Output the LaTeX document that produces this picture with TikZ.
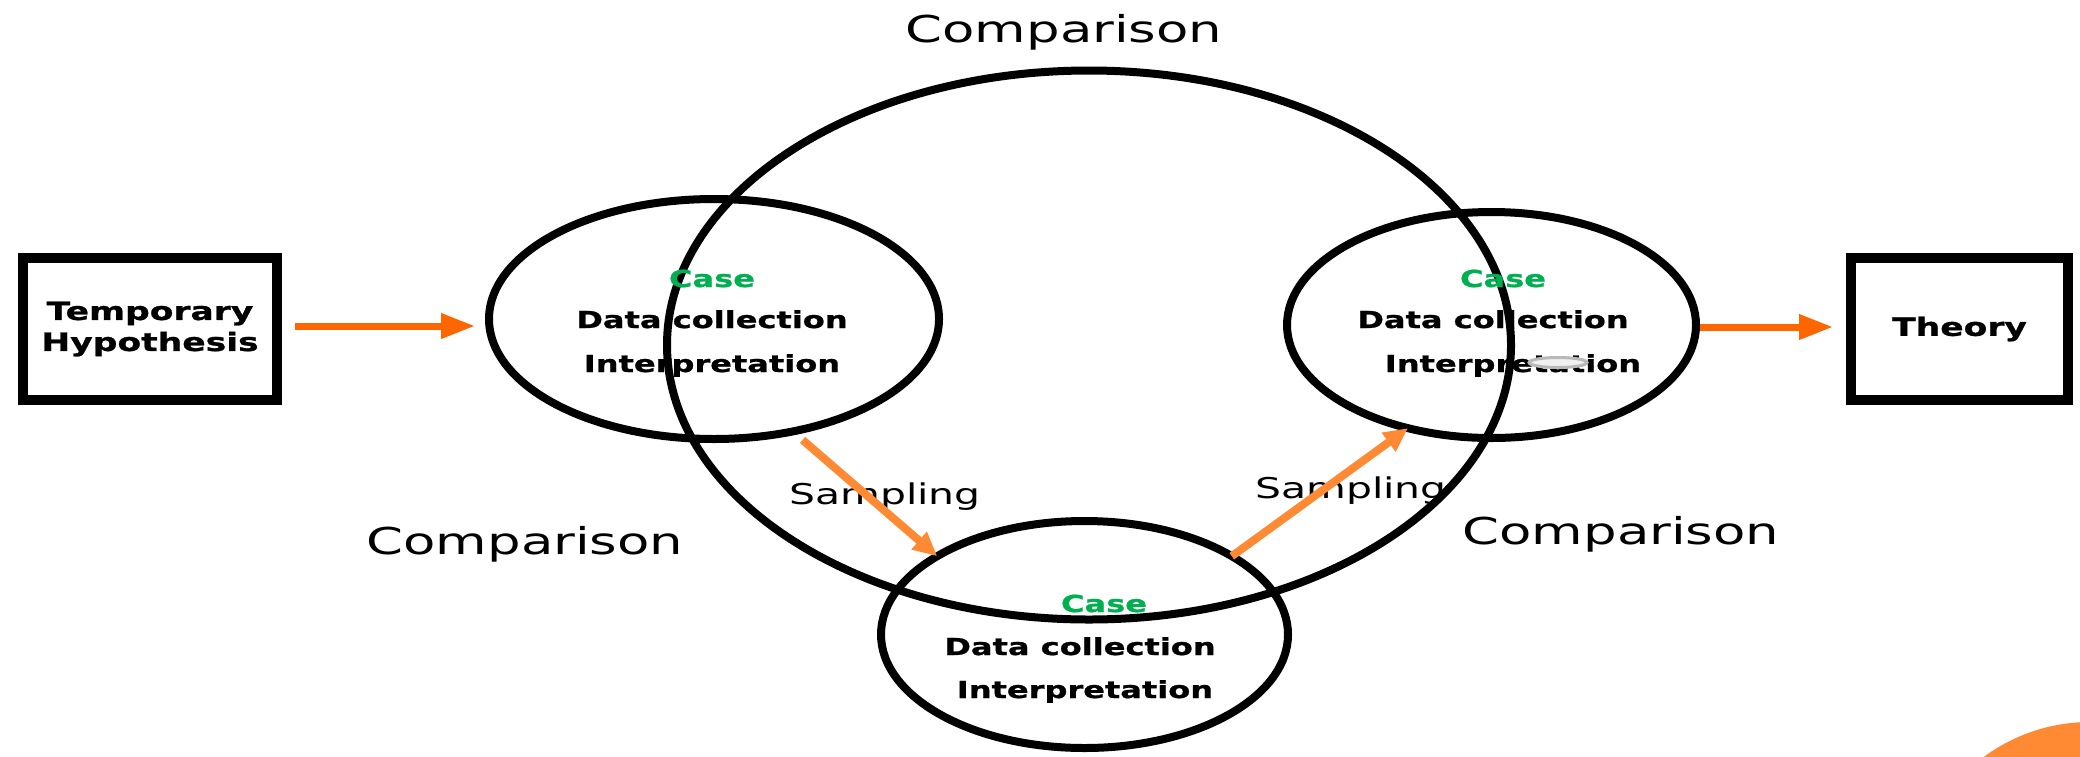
\documentclass[tikz,border=0pt]{standalone}
\usepackage{fontspec}
\setmainfont{DejaVu Sans}
\newfontfamily\regfont{DejaVu Sans}[FakeStretch=1.43]
\newfontfamily\bfont{DejaVu Sans}[FakeStretch=1.37,FakeBold=1]
\usetikzlibrary{shapes.geometric,arrows.meta}
\definecolor{arr}{HTML}{FF6600}
\definecolor{samp}{HTML}{FF8A33}
\definecolor{casegreen}{HTML}{00B050}
\tikzset{
 ring/.style={draw=black, line width=4pt, ellipse, inner sep=0pt, outer sep=0pt},
 boxnode/.style={draw=black, line width=5pt, inner sep=0pt, outer sep=0pt, align=center,
   font=\bfont\bfseries\fontsize{12.6}{15.5}\selectfont},
 lbl/.style={anchor=base, inner sep=0pt, font=\bfont\bfseries\fontsize{11.7}{14}\selectfont},
 casel/.style={lbl, text=casegreen},
 cmp/.style={anchor=base, inner sep=0pt, font=\regfont\fontsize{18.5}{22}\selectfont},
 smp/.style={anchor=base, inner sep=0pt, font=\regfont\fontsize{14.3}{17}\selectfont},
 harrow/.style={draw=arr, line width=3.5pt, -{Triangle[length=17pt,width=12pt]}},
 sarrow/.style={draw=samp, line width=4pt, -{Triangle[length=12pt,width=11pt]}},
}
\begin{document}
\begin{tikzpicture}[x=0.5pt,y=-0.5pt]
\useasboundingbox (0,0) rectangle (2080,756);
% orange corner decoration
\fill[samp] (2090,901) circle[radius=179];
% boxes
\node[boxnode, minimum width=127pt, minimum height=71pt] (T) at (150,329) {Temporary\\Hypothesis};
\node[boxnode, minimum width=108.5pt, minimum height=71pt] (Th) at (1959.5,329) {Theory};
% rings
\node[ring, minimum width=422pt, minimum height=274.5pt] (C) at (1089,345) {};
\node[ring, minimum width=225pt, minimum height=120pt] (L) at (714,319) {};
\node[ring, minimum width=204.5pt, minimum height=113pt] (R) at (1491.5,325) {};
\node[ring, minimum width=203.5pt, minimum height=113.5pt] (B) at (1084.5,634.5) {};
% labels in rings
\node[casel] (Lc) at (712,287) {Case};
\node[lbl] (Ld) at (712,328) {Data collection};
\node[lbl] (Li) at (712,372) {Interpretation};
\node[casel] (Rc) at (1503,287) {Case};
\node[lbl] (Rd) at (1493,328) {Data collection};
\node[lbl] (Ri) at (1513,372) {Interpretation};
\node[casel] (Bc) at (1104,612) {Case};
\node[lbl] (Bd) at (1080,655) {Data collection};
\node[lbl] (Bi) at (1085,698) {Interpretation};
% small grey mark over right text
\node[ellipse, draw=gray!55, fill=gray!12, line width=1.5pt, inner sep=0pt,
      minimum width=29pt, minimum height=5pt] (mark) at (1558,362.5) {};
% comparison labels
\node[cmp] (Ct) at (1064,42) {Comparison};
\node[cmp] (Cl) at (525,554) {Comparison};
\node[cmp] (Cr) at (1621,544) {Comparison};
% sampling labels
\node[smp] (Sl) at (885,504) {Sampling};
\node[smp] (Sr) at (1351,498) {Sampling};
% arrows
\draw[harrow, shorten <=9pt, shorten >=7pt] ([yshift=1.5pt]T.east) -- ([yshift=1.5pt]T.east -| L.west);
\draw[harrow, shorten <=2pt, shorten >=9pt] ([yshift=-1pt]R.east) -- ([yshift=-1pt]R.east -| Th.west);
\draw[sarrow, shorten <=6.5pt] (L.-55) -- (B.152);
\draw[sarrow] (B.28.5) -- (R.-129.4);
\end{tikzpicture}
\end{document}
